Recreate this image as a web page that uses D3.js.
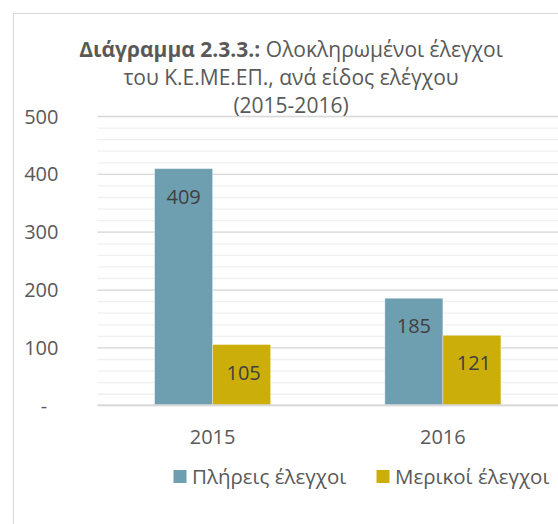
<!DOCTYPE html>
<html>
<head>
    <meta charset="utf-8">
    <title>Διάγραμμα 2.3.3.</title>
    <script src="https://cdn.jsdelivr.net/npm/d3@7"></script>
    <style>
        body {
            margin: 0;
            background: #fff;
        }

        svg {
            display: block;
            font-family: "Open Sans", sans-serif;
        }

        .tick text {
            fill: #595959;
        }
    </style>
</head>
<body>
<svg width="558" height="524"></svg>
<script type="text/javascript">

var years = ['2015', '2016'],
        seriesNames = ['Πλήρεις έλεγχοι', 'Μερικοί έλεγχοι'],
        fullChecks = [409, 185],
        partialChecks = [105, 121],
        seriesColors = ['#6e9fb0', '#ccae0a'],
        yTicks = [0, 100, 200, 300, 400, 500],
        yMinorTicks = d3.range(0, 501, 20),
        titleLines = [
            {bold: 'Διάγραμμα 2.3.3.:', rest: ' Ολοκληρωμένοι έλεγχοι'},
            {bold: '', rest: 'του Κ.Ε.ΜΕ.ΕΠ., ανά είδος ελέγχου'},
            {bold: '', rest: '(2015-2016)'}
        ];

var svg = d3.select('svg'),
        plot = {left: 97.5, right: 558, top: 116, bottom: 405.3};

// chart frame, cut off by the picture on the right and bottom
svg.append('rect')
        .attr('x', 13.5)
        .attr('y', 13.5)
        .attr('width', 700)
        .attr('height', 700)
        .attr('fill', '#fff')
        .attr('stroke', '#d9d9d9')
        .attr('stroke-width', 1);

var y = d3.scaleLinear()
        .domain([0, 500])
        .range([plot.bottom, plot.top]);

var x0 = d3.scaleBand()
        .domain(years)
        .range([plot.left, plot.right])
        .paddingInner(0.496)
        .paddingOuter(0.248);

var x1 = d3.scaleBand()
        .domain([0, 1])
        .range([0, x0.bandwidth()]);

// minor grid
svg.append('g')
        .attr('transform', 'translate(' + plot.left + ',0)')
        .call(d3.axisLeft(y).tickValues(yMinorTicks).tickSize(-(plot.right - plot.left)).tickFormat(''))
        .call(function (g) {
            g.select('.domain').remove();
            g.selectAll('line').attr('stroke', '#f0f0f0').attr('stroke-width', 1.3);
        });

// major grid
svg.append('g')
        .attr('transform', 'translate(' + plot.left + ',0)')
        .call(d3.axisLeft(y).tickValues(yTicks.slice(1)).tickSize(-(plot.right - plot.left)).tickFormat(''))
        .call(function (g) {
            g.select('.domain').remove();
            g.selectAll('line').attr('stroke', '#d9d9d9').attr('stroke-width', 1.3);
        });

// y labels
svg.append('g')
        .attr('transform', 'translate(58.5,0)')
        .call(d3.axisLeft(y).tickValues(yTicks).tickSize(0).tickPadding(0)
                .tickFormat(function (d) { return d === 0 ? '-' : d; }))
        .call(function (g) {
            g.select('.domain').remove();
            g.selectAll('text')
                    .attr('font-size', 20)
                    .attr('dy', 7)
                    .attr('font-family', '"Open Sans", sans-serif')
                    .filter(function (d) { return d === 0; })
                    .attr('text-anchor', 'middle')
                    .attr('x', -14.5);
        });

// bars
var groups = svg.append('g')
        .selectAll('g')
        .data(years)
        .enter()
        .append('g')
        .attr('transform', function (d) {
            return 'translate(' + x0(d) + ',0)';
        });

var bars = groups.selectAll('g')
        .data(function (d, i) {
            return [
                {s: 0, value: fullChecks[i]},
                {s: 1, value: partialChecks[i]}
            ];
        })
        .enter()
        .append('g');

bars.append('rect')
        .attr('x', function (d) { return x1(d.s); })
        .attr('y', function (d) { return y(d.value); })
        .attr('width', x1.bandwidth())
        .attr('height', function (d) { return y(0) - y(d.value); })
        .attr('fill', function (d) { return seriesColors[d.s]; })
        .attr('stroke', 'rgba(255,255,255,0.45)')
        .attr('stroke-width', 0.8);

bars.append('text')
        .attr('x', function (d) { return x1(d.s) + x1.bandwidth() / 2 + (d.s === 1 ? 2 : 0); })
        .attr('y', function (d) { return y(d.value) + 35; })
        .attr('text-anchor', 'middle')
        .attr('font-size', 20)
        .attr('fill', '#404040')
        .text(function (d) { return d.value; });

// zero line
svg.append('line')
        .attr('x1', plot.left)
        .attr('x2', plot.right)
        .attr('y1', y(0))
        .attr('y2', y(0))
        .attr('stroke', '#d9d9d9')
        .attr('stroke-width', 2);

// x labels
svg.append('g')
        .attr('transform', 'translate(0,' + plot.bottom + ')')
        .call(d3.axisBottom(x0).tickSize(0).tickPadding(0))
        .call(function (g) {
            g.select('.domain').remove();
            g.selectAll('text')
                    .attr('font-size', 20)
                    .attr('font-family', '"Open Sans", sans-serif')
                    .attr('dy', 39);
        });

// title
var title = svg.append('text')
        .attr('text-anchor', 'middle')
        .attr('font-size', 21)
        .attr('fill', '#595959');

titleLines.forEach(function (line, i) {
    var t = title.append('tspan')
            .attr('x', 291)
            .attr('y', 57 + i * 28);
    if (line.bold) {
        t.append('tspan').attr('font-weight', 'bold').text(line.bold);
    }
    t.append('tspan').text(line.rest);
});

// legend
var legendX = [173.5, 376.5];
var legend = svg.append('g')
        .selectAll('g')
        .data(seriesNames)
        .enter()
        .append('g')
        .attr('transform', function (d, i) {
            return 'translate(' + legendX[i] + ',470)';
        });

legend.append('rect')
        .attr('width', 13)
        .attr('height', 13)
        .attr('fill', function (d, i) { return seriesColors[i]; });

legend.append('text')
        .attr('x', 18.5)
        .attr('y', 13.5)
        .attr('font-size', 20.5)
        .attr('fill', '#595959')
        .text(function (d) { return d; });

</script>
</body>
</html>
